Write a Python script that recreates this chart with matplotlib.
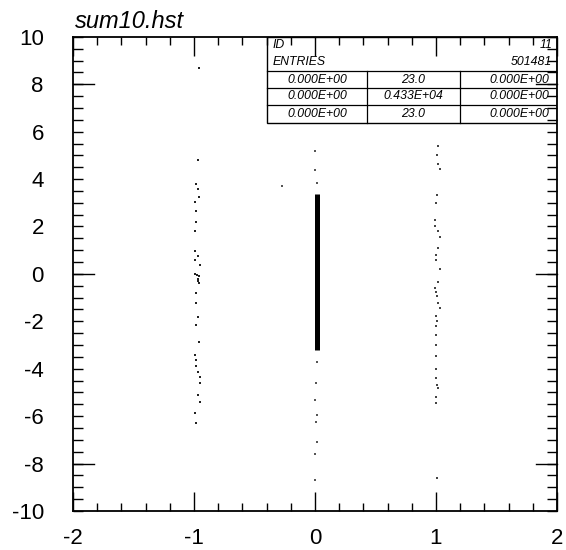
import matplotlib.pyplot as plt
from matplotlib.patches import Rectangle
from matplotlib.ticker import MultipleLocator

plt.rcParams['font.family'] = ['Liberation Sans', 'DejaVu Sans']
plt.rcParams['axes.unicode_minus'] = False

# dense band of entries around x = 0
band_x = [0.02, 0.02]
band_y = [-3.2, 3.38]

# scattered entries near x = -1
left_x = [-0.97, -0.98, -0.97, -0.96, -0.99, -0.98, -0.98, -0.99, -0.99, -0.97,
          -0.99, -0.95, -0.99, -0.975, -0.96, -0.97, -0.965, -0.96, -0.98, -0.98,
          -0.97, -0.98, -0.96, -0.99, -0.98, -0.98, -0.97, -0.95, -0.95, -0.97,
          -0.95, -0.99, -0.98, -0.96]
left_y = [4.81, 3.80, 3.59, 3.25, 3.04, 2.66, 2.19, 1.81, 0.97, 0.76,
          0.59, 0.38, -0.02, -0.05, -0.10, -0.20, -0.30, -0.40, -0.80, -1.22,
          -1.81, -2.15, -2.87, -3.42, -3.63, -3.88, -4.14, -4.35, -4.60, -5.11,
          -5.40, -5.86, -6.29, 8.70]

# scattered entries near x = 1
right_x = [1.02, 1.01, 1.02, 1.03, 1.01, 1.00, 0.99, 0.99, 1.02, 1.03,
           1.02, 1.00, 1.00, 1.03, 1.02, 0.99, 1.00, 1.01, 1.02, 1.03,
           1.00, 1.01, 1.00, 1.00, 1.00, 1.00, 1.00, 1.00, 1.01, 1.02,
           1.00, 1.00, 1.01]
right_y = [5.40, 5.02, 4.64, 4.43, 3.33, 3.00, 2.28, 2.03, 1.81, 1.56,
           1.10, 0.80, 0.59, 0.21, -0.34, -0.59, -0.76, -0.93, -1.22, -1.43,
           -1.77, -1.98, -2.19, -2.57, -3.00, -3.46, -4.01, -4.39, -4.68, -4.81,
           -5.19, -5.44, -8.60]

# scattered entries near x = 0, outside the band
mid_x = [0.02, -0.27, 0.02, 0.01, 0.00, 0.02, 0.01, 0.02, 0.00, 0.00, 0.00, 0.00]
mid_y = [3.84, 3.72, -3.70, -4.60, -5.30, -5.95, -6.25, -7.10, -7.60, -8.70, 5.20, 4.40]

# statistics box
stats_id = "11"
stats_entries = "501481"
stats_rows = [["0.000E+00", "23.0", "0.000E+00"],
              ["0.000E+00", "0.433E+04", "0.000E+00"],
              ["0.000E+00", "23.0", "0.000E+00"]]

fig = plt.figure(figsize=(5.66, 5.5), dpi=100)
ax = fig.add_axes([0.129, 0.071, 0.855, 0.862])
ax.set_axisbelow(False)

ax.plot(band_x, band_y, color='black', lw=3.6, solid_capstyle='butt', zorder=1.5)
ax.plot(left_x, left_y, 's', color='#222222', ms=1.8, mew=0, zorder=1.5)
ax.plot(right_x, right_y, 's', color='#444444', ms=1.6, mew=0, zorder=1.5)
ax.plot(mid_x, mid_y, 's', color='#555555', ms=1.6, mew=0, zorder=1.5)

ax.set_xlim(-2, 2)
ax.set_ylim(-10, 10)

ax.xaxis.set_major_locator(MultipleLocator(1))
ax.xaxis.set_minor_locator(MultipleLocator(0.2))
ax.yaxis.set_major_locator(MultipleLocator(2))
ax.yaxis.set_minor_locator(MultipleLocator(0.5))

ax.tick_params(axis='x', which='major', direction='in', length=14, width=1,
               top=True, labelsize=16, pad=12)
ax.tick_params(axis='x', which='minor', direction='in', length=6, width=1, top=True)
ax.tick_params(axis='y', which='major', direction='in', length=7, width=1,
               right=True, labelsize=16, pad=21)
ax.tick_params(axis='y', which='minor', direction='in', length=7, width=1, right=True)

# longer ticks on the y axis
for yv in [-8, 0, 8]:
    ax.plot([0, 0.043], [yv, yv], transform=ax.get_yaxis_transform(),
            color='black', lw=1, zorder=2.6, clip_on=False)
    ax.plot([0.957, 1], [yv, yv], transform=ax.get_yaxis_transform(),
            color='black', lw=1, zorder=2.6, clip_on=False)

for s in ax.spines.values():
    s.set_linewidth(1.3)

# stats box in axes coords
bx0, bx1 = 0.401, 1.0
c1, c2 = 0.607, 0.800
rows = [1.0, 0.964, 0.928, 0.892, 0.857, 0.819]
ax.add_patch(Rectangle((bx0, rows[-1]), bx1 - bx0, 1 - rows[-1], transform=ax.transAxes,
                       facecolor='white', edgecolor='black', lw=1.0, zorder=2))
for yl in rows[2:5]:
    ax.plot([bx0, bx1], [yl, yl], transform=ax.transAxes, color='black', lw=0.9, zorder=2.1)
for xl in [c1, c2]:
    ax.plot([xl, xl], [rows[-1], rows[2]], transform=ax.transAxes, color='black', lw=0.9, zorder=2.1)

tkw = dict(transform=ax.transAxes, fontsize=8.8, style='italic', va='center', zorder=3)
ax.text(bx0 + 0.012, (rows[0] + rows[1]) / 2, "ID", ha='left', **tkw)
ax.text(0.99, (rows[0] + rows[1]) / 2, stats_id, ha='right', **tkw)
ax.text(bx0 + 0.012, (rows[1] + rows[2]) / 2, "ENTRIES", ha='left', **tkw)
ax.text(0.99, (rows[1] + rows[2]) / 2, stats_entries, ha='right', **tkw)
for i, row in enumerate(stats_rows):
    yc = (rows[2 + i] + rows[3 + i]) / 2
    ax.text((bx0 + c1) / 2, yc, row[0], ha='center', **tkw)
    ax.text((c1 + c2) / 2, yc, row[1], ha='center', **tkw)
    ax.text(0.985, yc, row[2], ha='right', **tkw)

fig.text(75 / 566, 1 - 28 / 550, "sum10.hst", fontsize=17, style='italic',
         ha='left', va='baseline')

fig.savefig('out.png', dpi=100)
